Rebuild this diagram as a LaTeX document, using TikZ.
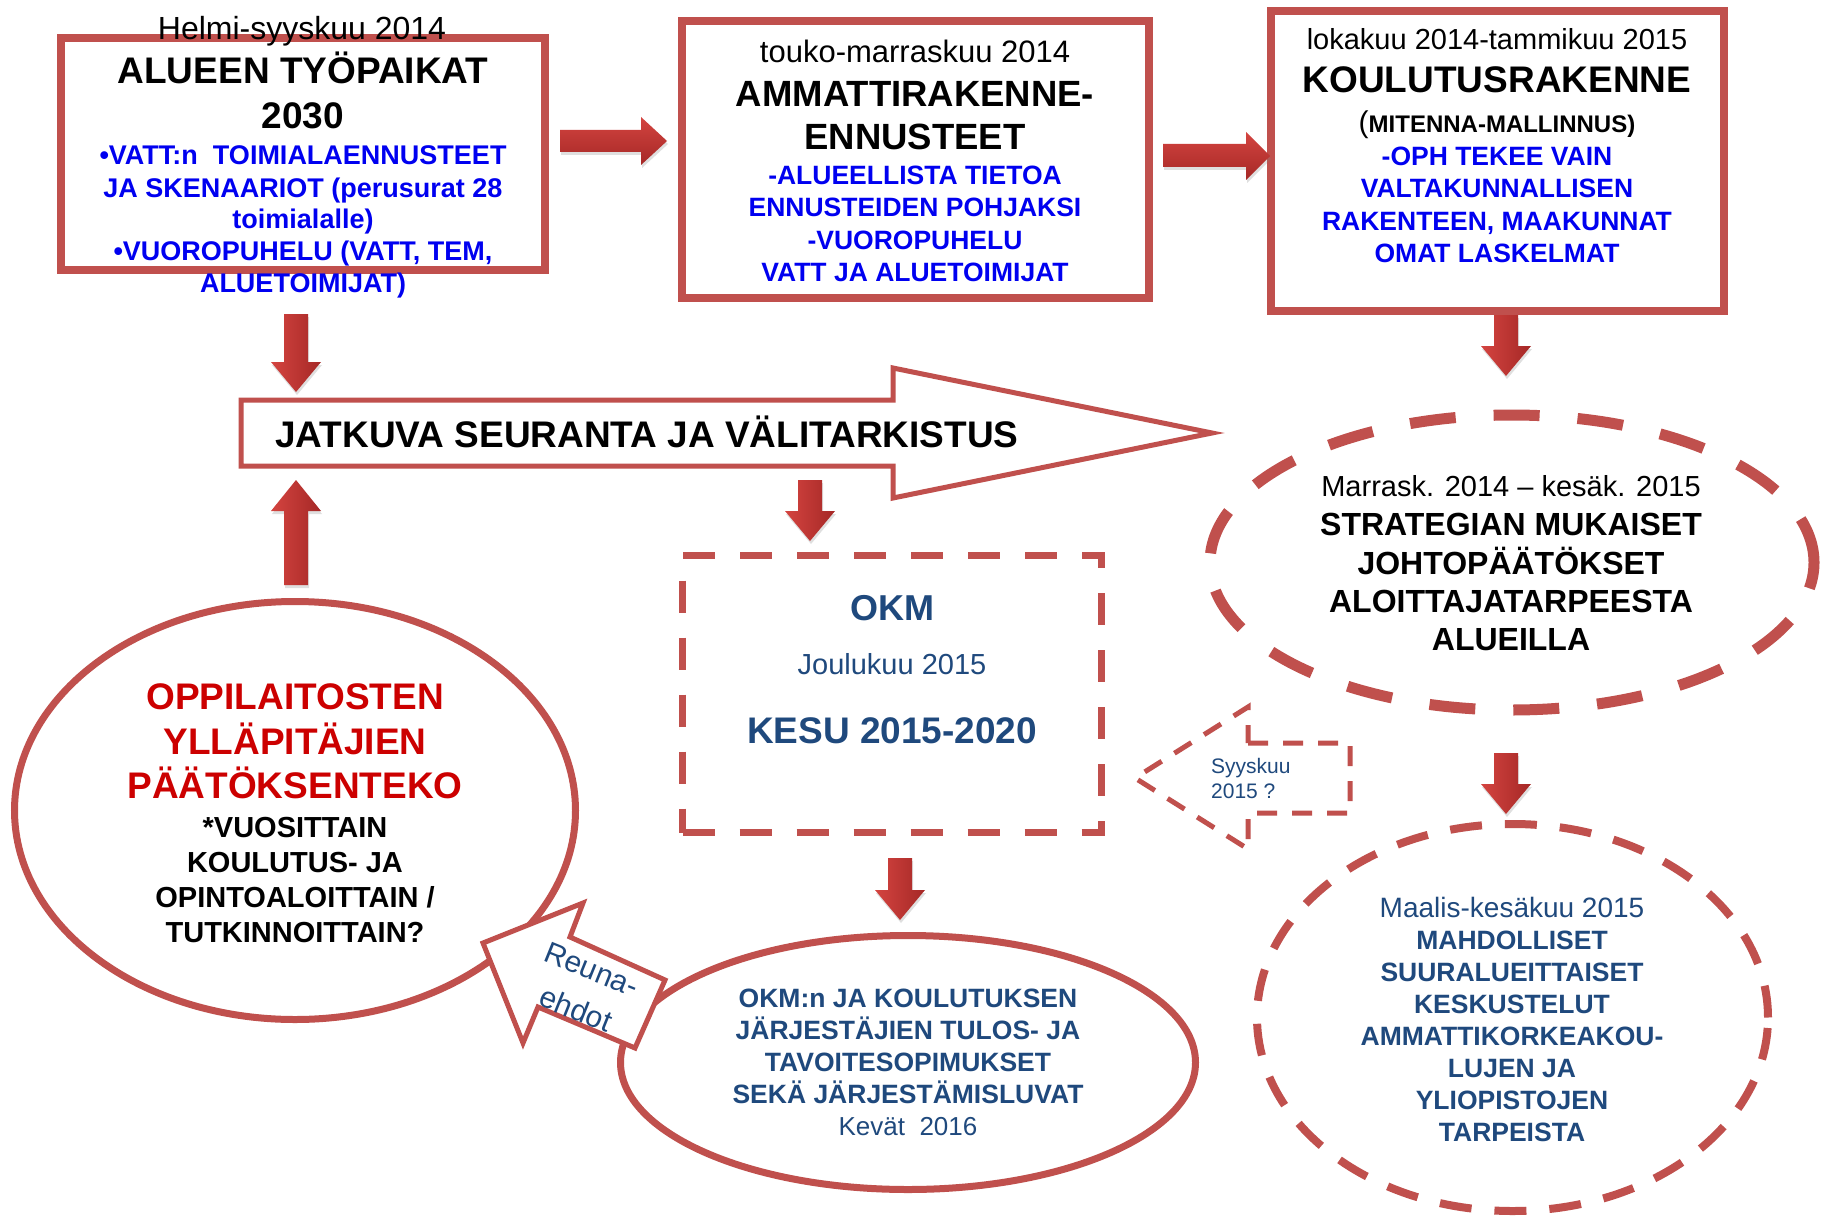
\documentclass[tikz,border=0pt]{standalone}
\usepackage{fontspec}
\setmainfont{Liberation Sans}
\usetikzlibrary{shapes.geometric,shadows}
\definecolor{redline}{RGB}{192,80,77}
\definecolor{arrlight}{RGB}{212,68,64}
\definecolor{arrdark}{RGB}{165,40,38}
\definecolor{bblue}{RGB}{0,0,240}
\definecolor{dblue}{RGB}{31,73,125}
\definecolor{tred}{RGB}{204,0,0}
\newcommand\fsz[1]{\fontsize{#1}{#1}\selectfont}
\newcommand\varr[4]{\path[varrow] ({#1-12},#2) -- ({#1+12},#2) -- ({#1+12},#4) -- ({#1+25},#4) -- (#1,#3) -- ({#1-25},#4) -- ({#1-12},#4) -- cycle;}
\begin{document}
\begin{tikzpicture}[x=1pt,y=-1pt,
  tx/.style={anchor=base, inner sep=0pt},
  bt/.style={tx, font={\fsz{#1}\bfseries}},
  rt/.style={tx, font={\fsz{#1}}},
  solidbox/.style={draw=redline, fill=white, inner sep=0pt},
  shadowed/.style={drop shadow={opacity=0.25, shadow xshift=1pt, shadow yshift=-3pt}},
  varrow/.style={left color=arrlight, right color=arrdark, shadowed},
  harrow/.style={top color=arrlight, bottom color=arrdark, shadowed},
  hollow/.style={draw=redline, fill=white, line width=5pt},
  dashedarrow/.style={draw=redline, fill=white, line width=5pt, dash pattern=on 20pt off 15pt}
]
\fill[white] (0,0) rectangle (1825,1217);
\useasboundingbox (0,0) rectangle (1825,1217);

% ---------- top boxes ----------
\node[solidbox, line width=8pt, minimum width=484pt, minimum height=232pt] (box1) at (303,154) {};
\node[solidbox, line width=8pt, minimum width=467pt, minimum height=277pt] (box2) at (915.5,159.5) {};
\node[solidbox, line width=8pt, minimum width=453pt, minimum height=300pt] (box3) at (1497.5,161) {};

% ---------- middle / bottom shapes ----------
\node[ellipse, draw=redline, fill=white, line width=11pt, dash pattern=on 46pt off 38pt,
      minimum width=604pt, minimum height=295pt, inner sep=0pt] (strat) at (1512,562.5) {};
\node[ellipse, draw=redline, fill=white, line width=8pt, dash pattern=on 32pt off 23pt,
      minimum width=511pt, minimum height=387pt, inner sep=0pt] (maalis) at (1512.5,1017.5) {};
\node[rectangle, draw=redline, fill=white, line width=7pt, dash pattern=on 32pt off 25pt,
      minimum width=419pt, minimum height=277pt, inner sep=0pt] (okmbox) at (892,694) {};
\node[ellipse, draw=redline, fill=white, line width=7pt,
      minimum width=561pt, minimum height=418pt, inner sep=0pt] (opp) at (295,810.5) {};
\node[ellipse, draw=redline, fill=white, line width=7pt,
      minimum width=575pt, minimum height=254pt, inner sep=0pt] (okmell) at (908,1062.5) {};

% big hollow arrow
\path[hollow] (241,400) -- (893,400) -- (893,368) -- (1212,433) -- (893,498) -- (893,466) -- (241,466) -- cycle;
% Reuna-ehdot arrow
\path[hollow] (483,943) -- (583,903) -- (570,937) -- (665,980) -- (635,1048) -- (538,1007) -- (523,1043) -- cycle;
% Syyskuu dashed arrow
\path[dashedarrow] (1248,743) -- (1350,743) -- (1350,813) -- (1248,813) -- (1248,849) -- (1135,778) -- (1248,707) -- cycle;

% ---------- red block arrows ----------
\path[harrow] (560,130) -- (641,130) -- (641,117) -- (667,141) -- (641,165) -- (641,152) -- (560,152) -- cycle;
\path[harrow] (1163,144) -- (1246,144) -- (1246,132) -- (1270,156) -- (1246,180) -- (1246,167) -- (1163,167) -- cycle;
\varr{296}{314}{392}{362}
\varr{296}{585}{480}{511}
\varr{810}{480}{541}{511}
\varr{1506}{315}{376}{346}
\varr{1506}{753}{814}{784}
\varr{900}{858}{920}{890}

% ---------- texts: box 1 ----------
\node[rt=32] (b1d) at (302,40) {Helmi-syyskuu 2014};
\node[bt=37] (b1t1) at (303,84) {ALUEEN TYÖPAIKAT};
\node[bt=37] (b1t2) at (303,129) {2030};
\node[bt=27, text=bblue] (b1a) at (303,165) {•VATT:n\ \ TOIMIALAENNUSTEET};
\node[bt=27, text=bblue] (b1b) at (303,197) {JA SKENAARIOT (perusurat 28};
\node[bt=27, text=bblue] (b1c) at (303,228) {toimialalle)};
\node[bt=27, text=bblue] (b1e) at (303,260) {•VUOROPUHELU (VATT, TEM,};
\node[bt=27, text=bblue] (b1f) at (303,292) {ALUETOIMIJAT)};

% ---------- texts: box 2 ----------
\node[rt=31] (b2d) at (915,63) {touko-marraskuu 2014};
\node[bt=36.5] (b2t1) at (915,107) {AMMATTIRAKENNE-};
\node[bt=36.5] (b2t2) at (915,150) {ENNUSTEET};
\node[bt=26.5, text=bblue] (b2a) at (915,185) {-ALUEELLISTA TIETOA};
\node[bt=26.5, text=bblue] (b2b) at (915,217) {ENNUSTEIDEN POHJAKSI};
\node[bt=26.5, text=bblue] (b2c) at (915,249) {-VUOROPUHELU};
\node[bt=26.5, text=bblue] (b2e) at (915,281) {VATT JA ALUETOIMIJAT};

% ---------- texts: box 3 ----------
\node[rt=29] (b3d) at (1497,50) {lokakuu 2014-tammikuu 2015};
\node[bt=37] (b3t) at (1497,93) {KOULUTUSRAKENNE};
\node[bt=24] (b3m) at (1497,133) {\textmd{\fsz{30}(}MITENNA-MALLINNUS)};
\node[bt=26.5, text=bblue] (b3a) at (1497,166) {-OPH TEKEE VAIN};
\node[bt=26.5, text=bblue] (b3b) at (1497,198) {VALTAKUNNALLISEN};
\node[bt=26.5, text=bblue] (b3c) at (1497,230) {RAKENTEEN, MAAKUNNAT};
\node[bt=26.5, text=bblue] (b3e) at (1497,262) {OMAT LASKELMAT};

% ---------- big arrow text ----------
\node[bt=37, anchor=base west] (jt) at (275,447) {JATKUVA SEURANTA JA VÄLITARKISTUS};

% ---------- strategy ellipse ----------
\node[rt=29] (s0) at (1511,496) {Marrask. 2014 – kesäk. 2015};
\node[bt=32] (s1) at (1511,535) {STRATEGIAN MUKAISET};
\node[bt=32] (s2) at (1511,574) {JOHTOPÄÄTÖKSET};
\node[bt=32] (s3) at (1511,612) {ALOITTAJATARPEESTA};
\node[bt=32] (s4) at (1511,650) {ALUEILLA};

% ---------- OKM box ----------
\node[bt=36, text=dblue] (o1) at (892,620) {OKM};
\node[rt=29, text=dblue] (o2) at (892,674) {Joulukuu 2015};
\node[bt=37, text=dblue] (o3) at (892,743) {KESU 2015-2020};

% ---------- Syyskuu ----------
\node[rt=21, text=dblue, anchor=base west] (sy1) at (1211,773) {Syyskuu};
\node[rt=21, text=dblue, anchor=base west] (sy2) at (1211,798) {2015 ?};

% ---------- OPPILAITOSTEN ellipse ----------
\node[bt=37, text=tred] (p1) at (295,709) {OPPILAITOSTEN};
\node[bt=37, text=tred] (p2) at (295,754) {YLLÄPITÄJIEN};
\node[bt=37, text=tred] (p3) at (295,798) {PÄÄTÖKSENTEKO};
\node[bt=29] (p4) at (295,837) {*VUOSITTAIN};
\node[bt=29] (p5) at (295,872) {KOULUTUS- JA};
\node[bt=29] (p6) at (295,907) {OPINTOALOITTAIN /};
\node[bt=29] (p7) at (295,942) {TUTKINNOITTAIN?};

% ---------- Reuna-ehdot ----------
\node[rt=30, text=dblue, rotate=-22] (r1) at (588,979) {Reuna-};
\node[rt=30, text=dblue, rotate=-22] (r2) at (572,1019) {ehdot};

% ---------- OKM ellipse ----------
\node[bt=26.5, text=dblue] (k1) at (908,1007) {OKM:n JA KOULUTUKSEN};
\node[bt=26.5, text=dblue] (k2) at (908,1039) {JÄRJESTÄJIEN TULOS- JA};
\node[bt=26.5, text=dblue] (k3) at (908,1071) {TAVOITESOPIMUKSET};
\node[bt=26.5, text=dblue] (k4) at (908,1103) {SEKÄ JÄRJESTÄMISLUVAT};
\node[rt=26, text=dblue] (k5) at (908,1135) {Kevät\ \ 2016};

% ---------- Maalis ellipse ----------
\node[rt=28, text=dblue] (m0) at (1512,917) {Maalis-kesäkuu 2015};
\node[bt=26.5, text=dblue] (m1) at (1512,949) {MAHDOLLISET};
\node[bt=26.5, text=dblue] (m2) at (1512,981) {SUURALUEITTAISET};
\node[bt=26.5, text=dblue] (m3) at (1512,1013) {KESKUSTELUT};
\node[bt=26.5, text=dblue] (m4) at (1512,1045) {AMMATTIKORKEAKOU-};
\node[bt=26.5, text=dblue] (m5) at (1512,1077) {LUJEN JA};
\node[bt=26.5, text=dblue] (m6) at (1512,1109) {YLIOPISTOJEN};
\node[bt=26.5, text=dblue] (m7) at (1512,1141) {TARPEISTA};
\end{tikzpicture}
\end{document}
